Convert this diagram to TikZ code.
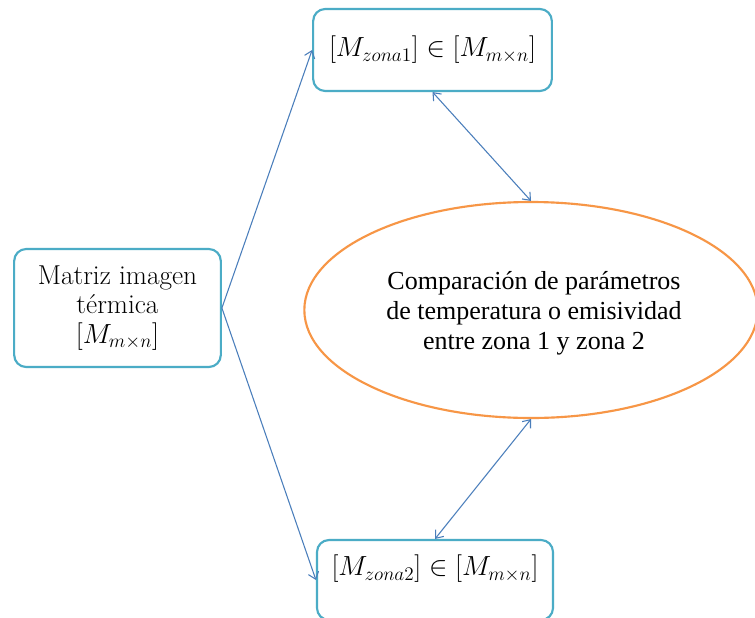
\documentclass[tikz,border=0pt]{standalone}
\usepackage{fontspec}
\usetikzlibrary{arrows.meta,shapes.geometric}
\newfontfamily\ellfont{Liberation Serif}
\definecolor{boxline}{HTML}{4BACC6}
\definecolor{ellline}{HTML}{F79646}
\definecolor{arrline}{HTML}{4A7EBB}
\tikzset{
  zbox/.style={draw=boxline, line width=1.6pt, rounded corners=9pt, fill=white,
    inner sep=0pt, align=center},
  boxtext/.style={font=\fontsize{20.5}{22}\selectfont},
  mathtext/.style={font=\fontsize{21.5}{24}\selectfont},
  zell/.style={ellipse, draw=ellline, line width=1.6pt, inner sep=0pt,
    minimum width=340pt, minimum height=162pt},
  elltext/.style={align=center, inner sep=0pt,
    font=\ellfont\fontsize{19.5}{22.5}\selectfont},
  link/.style={draw=arrline, line width=0.8pt,
    -{Straight Barb[length=5pt,width=8pt]}},
  duallink/.style={draw=arrline, line width=0.8pt,
    {Straight Barb[length=5pt,width=8pt]}-{Straight Barb[length=5pt,width=8pt]}},
}
\begin{document}
\begin{tikzpicture}[x=0.75pt,y=-0.75pt]
\useasboundingbox (0,0) rectangle (755,617);
\begin{scope}
\clip (0,0) rectangle (755,617);
\fill[white] (0,0) rectangle (755,617);
% boxes
\node[zbox, mathtext, minimum width=179pt, minimum height=61.5pt] (top) at (432.5,50)
  {$[M_{zona1}]\in[M_{m\times n}]$};
\node[zbox, boxtext, minimum width=155pt, minimum height=88.5pt] (mat) at (117.5,308)
  {Matriz imagen\\ térmica\\ $[M_{m\times n}]$};
\node[zbox, minimum width=177pt, minimum height=60pt] (bot) at (435,580) {};
\node[mathtext, inner sep=0pt] (bottxt) at (435,569)
  {$[M_{zona2}]\in[M_{m\times n}]$};
% comparison ellipse and its text
\node[zell] (cmp) at (531,310) {};
\node[elltext] (cmptxt) at (534,313)
  {Comparación de parámetros\\ de temperatura o emisividad\\ entre zona 1 y zona 2};
% connectors
\draw[link] (mat.east) -- (top.west);
\draw[link] (mat.east) -- (bot.west);
\draw[duallink] (top.south) -- (cmp.north);
\draw[duallink] (cmp.south) -- (bot.north);
\end{scope}
\end{tikzpicture}
\end{document}
